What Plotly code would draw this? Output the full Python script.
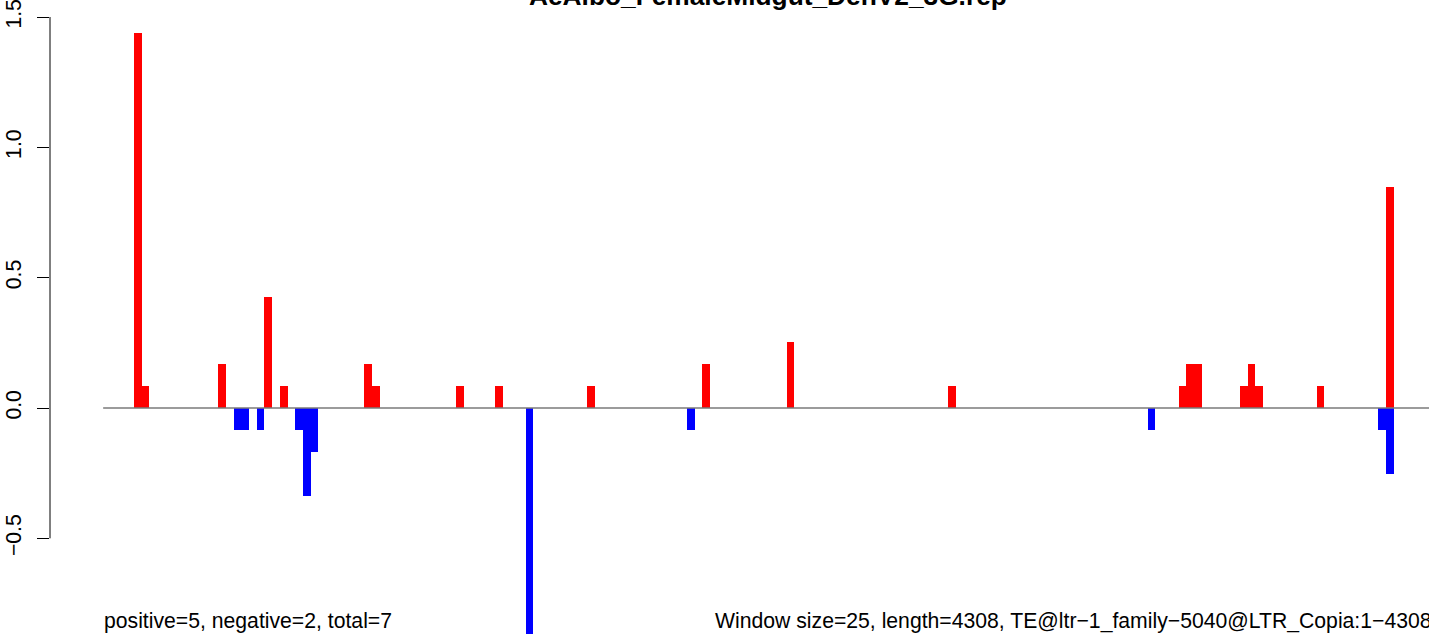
import plotly.graph_objects as go

# ---- data ----
title_text = "AeAlbo_FemaleMidgut_DenV2_3G.rep"
n_windows = 173  # length 4308 / window size 25

pos_windows = [4, 5, 15, 21, 23, 34, 35, 46, 51, 63, 78, 89, 110, 140, 141, 142, 148, 149, 150, 158, 167]
pos_values = [1.44, 0.085, 0.169, 0.424, 0.085, 0.169, 0.085, 0.085, 0.085, 0.085, 0.169, 0.254,
              0.085, 0.085, 0.169, 0.169, 0.085, 0.169, 0.085, 0.085, 0.847]

neg_windows = [17, 18, 20, 25, 26, 27, 55, 76, 136, 166, 167]
neg_values = [-0.085, -0.085, -0.085, -0.085, -0.339, -0.169, -0.93, -0.085, -0.085, -0.085, -0.254]

ytick_vals = [-0.5, 0.0, 0.5, 1.0, 1.5]
ytick_text = ["\u22120.5", "0.0", "0.5", "1.0", "1.5"]

left_note = "positive=5, negative=2, total=7"
right_note = "Window size=25, length=4308, TE@ltr\u22121_family\u22125040@LTR_Copia:1\u22124308"

FONT = "Liberation Sans, Arial, Helvetica, sans-serif"
base_size = 21.2

fig = go.Figure()

# zero line
fig.add_trace(go.Scatter(
    x=[0, n_windows], y=[0, 0], mode="lines",
    line=dict(color="#7a7a7a", width=1.3), hoverinfo="skip", showlegend=False))

fig.add_trace(go.Bar(
    x=[w + 0.5 for w in pos_windows], y=pos_values, width=1.0,
    marker=dict(color="#FF0000", line=dict(width=0)), showlegend=False))
fig.add_trace(go.Bar(
    x=[w + 0.5 for w in neg_windows], y=neg_values, width=1.0,
    marker=dict(color="#0000FF", line=dict(width=0)), showlegend=False))

# R-style y axis line spanning the tick range only
fig.add_shape(type="line", xref="paper", x0=0, x1=0, yref="y",
              y0=ytick_vals[0], y1=ytick_vals[-1], line=dict(color="black", width=1))

fig.add_annotation(text="<b>" + title_text + "</b>", xref="x", x=n_windows / 2,
                   yref="paper", y=1, yanchor="bottom", yshift=-13, showarrow=False,
                   font=dict(family=FONT, size=26.3, color="black"))
fig.add_annotation(text=left_note, xref="x", x=0, xanchor="left", xshift=-1,
                   yref="paper", y=0, yanchor="bottom", yshift=-1, showarrow=False,
                   font=dict(family=FONT, size=base_size, color="black"))
fig.add_annotation(text=right_note, xref="paper", x=(713 - 50) / 1379, xanchor="left",
                   yref="paper", y=0, yanchor="bottom", yshift=-1, showarrow=False,
                   font=dict(family=FONT, size=base_size, color="black"))

fig.update_layout(
    width=1429, height=634,
    margin=dict(l=50, r=0, t=0, b=0, pad=0, autoexpand=False),
    paper_bgcolor="white", plot_bgcolor="white",
    barmode="overlay", bargap=0,
    font=dict(family=FONT, size=base_size, color="black"),
    xaxis=dict(range=[-6.92, 172.61], visible=False, showgrid=False, zeroline=False,
               automargin=False),
    yaxis=dict(range=[-0.867, 1.5652], showgrid=False, zeroline=False, showline=False,
               automargin=False, ticklabeloverflow="allow",
               tickmode="array", tickvals=ytick_vals, ticktext=ytick_text,
               ticks="outside", ticklen=12, tickwidth=1, tickcolor="black",
               tickangle=-90, ticklabelstandoff=8,
               tickfont=dict(family=FONT, size=base_size, color="black")),
    hovermode=False,
)

fig.write_html("out.html", config={"displayModeBar": False},
               post_script="document.body.style.margin='0';document.body.style.overflow='hidden';")
